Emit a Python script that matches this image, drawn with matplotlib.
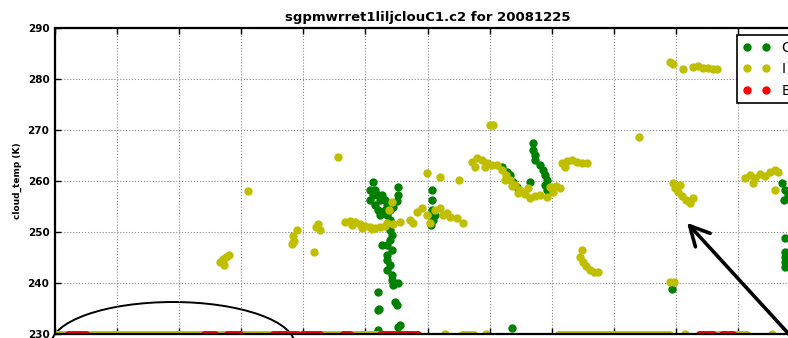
import matplotlib
matplotlib.use("Agg")
import matplotlib.pyplot as plt
from matplotlib.patches import Ellipse

# hours since 00 UTC, cloud temperature (K)
good_t = [10.24, 10.15, 10.24, 10.31, 10.41, 10.47, 10.53, 10.31, 10.41, 10.15,
          10.63, 10.70, 10.63, 10.47, 10.79, 10.89, 11.05, 11.05, 11.02,
          10.70, 10.79, 10.70, 10.79, 10.86, 10.79, 10.53, 10.70, 10.86, 10.70,
          10.70, 10.79, 10.70, 10.86, 10.86, 10.89, 11.05, 10.41, 10.95, 11.02,
          10.41, 10.44, 10.41, 11.05, 11.11,
          12.15, 12.15, 12.15, 12.18, 12.12, 12.24,
          14.40, 14.56, 14.66, 14.76, 14.88,
          15.40, 15.40, 15.46, 15.46, 15.63, 15.72, 15.79, 15.85, 15.79, 15.85, 15.30,
          14.72, 19.88,
          23.42, 23.52, 23.61, 23.49, 23.52, 23.52, 23.52, 23.52, 23.52]
good_T = [259.8, 258.2, 257.3, 258.2, 257.3, 256.3, 257.3, 255.3, 254.3, 256.3,
          256.3, 255.3, 254.3, 253.3, 254.3, 254.9, 258.8, 257.3, 256.0,
          253.3, 252.4, 251.4, 250.4, 249.4, 248.4, 247.5, 247.5, 246.5, 245.5,
          244.5, 243.5, 242.5, 241.6, 240.6, 239.6, 240.0, 238.2, 236.3, 235.7,
          234.7, 234.9, 230.8, 231.4, 231.8,
          258.2, 256.3, 254.3, 252.4, 251.4, 253.3,
          262.7, 261.8, 261.2, 259.8, 258.8,
          267.5, 266.1, 265.1, 264.1, 263.1, 262.2, 261.2, 260.2, 259.2, 258.2, 259.8,
          231.2, 238.8,
          259.6, 258.2, 257.3, 256.3, 248.8, 246.1, 245.1, 244.1, 243.1]

ind_t = [5.32, 5.41, 5.51, 5.61, 5.44, 5.38,
         6.22, 9.12,
         7.80, 7.70, 7.67, 7.64,
         8.47, 8.54, 8.34, 8.41,
         9.34, 9.50, 9.67, 9.83, 9.99, 10.15, 10.31, 10.47, 10.63, 9.57, 9.89, 10.22,
         10.86, 10.76, 11.10, 10.70, 10.90,
         11.44, 11.66, 11.82, 11.98, 12.24, 12.40, 12.50, 12.73, 12.95, 13.14, 12.63,
         12.08, 11.53,
         11.98, 12.40, 13.02,
         14.11, 14.01,
         13.43, 13.60, 13.76, 13.92, 14.08, 13.53, 13.86,
         14.24, 14.40, 14.53, 14.66, 14.82, 14.98, 15.14, 15.30, 15.46, 15.63,
         14.50, 14.72, 14.92, 15.24,
         15.95, 16.14, 16.27, 15.85, 16.04,
         16.33, 16.49, 16.66, 16.82, 16.98, 17.14, 16.43,
         16.91, 17.01, 17.11, 17.24, 17.36, 17.49, 16.98,
         18.81,
         19.81, 19.91, 20.23, 20.55, 20.72, 20.88, 21.04, 21.20, 21.33,
         19.91, 19.97, 20.07, 20.20, 20.33, 20.46, 20.55, 20.14,
         19.81, 19.94,
         22.39, 22.55, 22.71, 22.87, 23.03, 23.20, 23.29, 22.49, 23.20, 22.23,
         12.56, 13.90, 20.30, 23.10]
ind_T = [244.1, 244.7, 245.1, 245.5, 243.5, 244.3,
         258.0, 264.7,
         250.4, 248.2, 249.2, 247.6,
         251.6, 250.4, 246.1, 251.0,
         252.0, 252.2, 252.0, 251.6, 251.2, 251.0, 250.8, 251.0, 251.2, 251.4, 250.8, 250.6,
         255.9, 254.3, 252.0, 251.8, 251.5,
         252.4, 253.9, 254.7, 253.3, 254.3, 254.7, 253.3, 252.9, 252.7, 251.8, 253.7,
         251.8, 251.8,
         261.6, 260.8, 260.2,
         271.0, 271.0,
         263.7, 264.5, 264.1, 263.5, 263.1, 262.7, 262.7,
         263.1, 262.2, 261.2, 260.2, 259.2, 258.2, 257.5, 256.7, 257.1, 257.3,
         260.2, 259.0, 257.6, 258.6,
         258.8, 259.0, 258.6, 256.9, 257.8,
         263.5, 263.9, 264.1, 263.7, 263.5, 263.5, 262.7,
         245.1, 244.1, 243.3, 242.5, 242.2, 242.2, 246.5,
         268.6,
         283.3, 282.9, 282.0, 282.4, 282.5, 282.2, 282.2, 282.0, 282.0,
         259.6, 258.6, 257.8, 257.1, 256.3, 255.7, 256.7, 259.2,
         240.2, 240.2,
         261.2, 260.6, 261.4, 261.0, 261.8, 262.2, 261.8, 259.6, 258.2, 260.6,
         230.0, 230.0, 230.0, 230.0]

# runs of back-to-back points sitting on 230 K (start, end hour)
ind_runs = [(0.0, 10.6), (13.1, 13.5), (16.2, 19.8), (21.2, 21.5), (21.8, 22.3)]
bad_runs = [(0.42, 1.0), (4.8, 5.15), (5.54, 5.96), (7.02, 7.8), (7.96, 8.54),
            (9.28, 9.5), (10.47, 11.7), (20.75, 21.2), (21.5, 21.85)]

GREEN = (0.0, 0.5, 0.0)
YELLOW = (0.75, 0.75, 0.0)
RED = (1.0, 0.0, 0.0)

fig = plt.figure(figsize=(7.88, 3.38), dpi=100)
ax = fig.add_axes([55 / 788, 4 / 338, 745 / 788, 306 / 338])

ax.plot(good_t, good_T, 'o', color=GREEN, mec=GREEN, ms=5, label='G')
ax.plot(ind_t, ind_T, 'o', color=YELLOW, mec=YELLOW, ms=5, label='I')
for a, b in ind_runs:
    ax.plot([a, b], [230, 230], '-', color=YELLOW, lw=5, solid_capstyle='round')
ax.plot([], [], 'o', color=RED, mec=RED, ms=5, label='B')
for a, b in bad_runs:
    ax.plot([a, b], [230, 230], '-', color=RED, lw=5, solid_capstyle='round')

ax.set_xlim(0, 24)
ax.set_ylim(230, 290)
ax.set_xticks(range(0, 25, 2))
ax.set_yticks(range(230, 291, 10))
ax.grid(True, color='0.55', linestyle=':', linewidth=0.8)
ax.tick_params(direction='in', length=4, width=1, top=True, right=True,
               labelsize=7.5, pad=4, labelbottom=False)
for lab in ax.get_yticklabels():
    lab.set_fontweight('bold')
for s in ax.spines.values():
    s.set_linewidth(1.6)

ax.set_ylabel('cloud_temp (K)', fontsize=6.5, fontweight='bold', labelpad=4)
ax.set_title('sgpmwrret1liljclouC1.c2 for 20081225', fontsize=9.5,
             fontweight='bold', pad=5)

leg = ax.legend(loc='upper left', bbox_to_anchor=(737 / 788, 1 - 35 / 338),
                bbox_transform=fig.transFigure, borderaxespad=0, numpoints=2,
                fontsize=10, fancybox=False, framealpha=1, edgecolor='k',
                labelspacing=0.55)
leg.get_frame().set_linewidth(1.2)

# hand-drawn style markup on top of the plot
ax.add_patch(Ellipse((3.80, 227.84), 7.86, 16.86, fill=False, ec='k', lw=1.4,
                     clip_on=False))
ax.annotate('', xy=(20.36, 251.8), xytext=(24.0, 227.6),
            arrowprops=dict(arrowstyle='->,head_length=0.7,head_width=0.36',
                            lw=2.6, color='k', mutation_scale=20,
                            shrinkA=0, shrinkB=0),
            annotation_clip=False)

fig.savefig('out.png', dpi=100)
